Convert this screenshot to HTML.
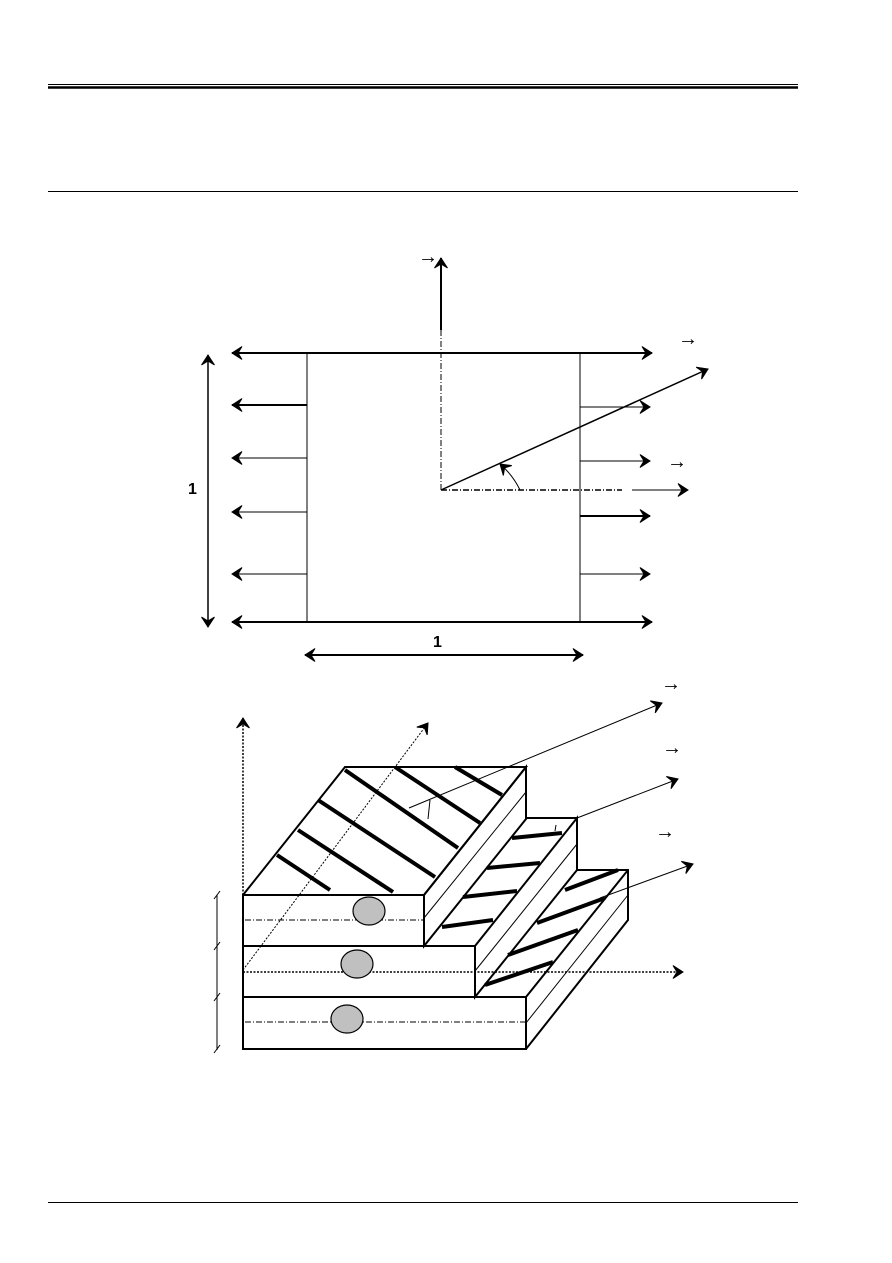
<!DOCTYPE html>
<html><head><meta charset="utf-8"><style>
html,body{margin:0;padding:0;background:#fff;width:892px;height:1263px;overflow:hidden}
svg{display:block}
text{font-family:"Liberation Sans",sans-serif;fill:#000}
</style></head><body>
<svg width="892" height="1263" viewBox="0 0 892 1263" xmlns="http://www.w3.org/2000/svg">
<defs>
<marker id="a" markerWidth="16" markerHeight="16" refX="12" refY="8" orient="auto" markerUnits="userSpaceOnUse">
<path d="M2,1.5 L12,8 L2,14.5 L6,8 Z" fill="#000" stroke="#000" stroke-width="1"/></marker>
<marker id="b" markerWidth="16" markerHeight="16" refX="4" refY="8" orient="auto" markerUnits="userSpaceOnUse">
<path d="M14,1.5 L4,8 L14,14.5 L10,8 Z" fill="#000" stroke="#000" stroke-width="1"/></marker>
</defs>
<g stroke="#000" fill="none">
<line x1="48" y1="84.5" x2="798" y2="84.5" stroke-width="1"/>
<line x1="48" y1="87.5" x2="798" y2="87.5" stroke-width="2.5"/>
<line x1="48" y1="191.5" x2="798" y2="191.5" stroke-width="1"/>
<line x1="48" y1="1202.5" x2="798" y2="1202.5" stroke-width="1"/>

<!-- top diagram -->
<rect x="307" y="353" width="273" height="269" stroke-width="1"/>
<line x1="232" y1="353" x2="652" y2="353" stroke-width="2" marker-start="url(#b)" marker-end="url(#a)"/>
<line x1="232" y1="622" x2="652" y2="622" stroke-width="2" marker-start="url(#b)" marker-end="url(#a)"/>
<line x1="307" y1="405" x2="232" y2="405" stroke-width="2" marker-end="url(#a)"/>
<line x1="307" y1="458" x2="232" y2="458" stroke-width="1" marker-end="url(#a)"/>
<line x1="307" y1="512" x2="232" y2="512" stroke-width="1" marker-end="url(#a)"/>
<line x1="307" y1="574" x2="232" y2="574" stroke-width="1" marker-end="url(#a)"/>
<line x1="580" y1="407" x2="650" y2="407" stroke-width="1" marker-end="url(#a)"/>
<line x1="580" y1="461" x2="650" y2="461" stroke-width="1" marker-end="url(#a)"/>
<line x1="580" y1="516" x2="650" y2="516" stroke-width="2" marker-end="url(#a)"/>
<line x1="580" y1="574" x2="650" y2="574" stroke-width="1" marker-end="url(#a)"/>
<line x1="208" y1="355" x2="208" y2="627" stroke-width="1.5" marker-start="url(#b)" marker-end="url(#a)"/>
<line x1="305" y1="655" x2="583" y2="655" stroke-width="2" marker-start="url(#b)" marker-end="url(#a)"/>
<line x1="441" y1="330" x2="441" y2="258" stroke-width="2" marker-end="url(#a)"/>
<line x1="441" y1="330" x2="441" y2="490" stroke-width="1" stroke-dasharray="6,2,1,2"/>
<line x1="441" y1="490" x2="622" y2="490" stroke-width="1.5" stroke-dasharray="6,2,1,2"/>
<line x1="632" y1="490" x2="688" y2="490" stroke-width="1" marker-end="url(#a)"/>
<line x1="441" y1="490" x2="708" y2="369" stroke-width="1.5" marker-end="url(#a)"/>
<path d="M520,490 A80,80 0 0 0 500,464" stroke-width="1" marker-end="url(#a)"/>

<!-- bottom diagram -->
<g stroke-width="2">
<rect x="243" y="895" width="181" height="51"/>
<rect x="243" y="946" width="232" height="51"/>
<rect x="243" y="997" width="283" height="52"/>
<polyline points="243,895 345,767 526,767 424,895"/>
<polygon points="424,895 526,767 526,819 424,946"/>
<polygon points="475,946 577,818 577,870 475,997"/>
<polyline points="526,818 577,818"/>
<polyline points="577,870 628,870 628,920 526,1049"/>
<line x1="526" y1="997" x2="628" y2="870"/>
</g>
<g stroke-width="1">
<line x1="424" y1="918" x2="526" y2="792"/>
<line x1="475" y1="971" x2="577" y2="844"/>
<line x1="526" y1="1023" x2="628" y2="895"/>
</g>
<g stroke-width="1" stroke-dasharray="6,2,1,2">
<line x1="245" y1="920" x2="424" y2="920"/>
<line x1="245" y1="1022" x2="526" y2="1022"/>
</g>
<g stroke-width="1.5" stroke-dasharray="2,1.5">
<line x1="243" y1="972" x2="683" y2="972" marker-end="url(#a)"/>
<line x1="243" y1="895" x2="243" y2="718" marker-end="url(#a)"/>
<line x1="243" y1="970" x2="428" y2="723" stroke-width="1" marker-end="url(#a)"/>
</g>
<g fill="#c0c0c0" stroke-width="1.2">
<ellipse cx="369" cy="911" rx="16" ry="14"/>
<ellipse cx="357" cy="964" rx="16" ry="14"/>
<ellipse cx="347" cy="1019" rx="16" ry="14"/>
</g>
<g stroke-width="4">
<line x1="277" y1="855" x2="330" y2="890"/>
<line x1="298" y1="830" x2="393" y2="892"/>
<line x1="318" y1="800" x2="435" y2="877"/>
<line x1="345" y1="770" x2="458" y2="848"/>
<line x1="395" y1="767" x2="480" y2="823"/>
<line x1="455" y1="767" x2="502" y2="795"/>
<line x1="512" y1="838" x2="562" y2="833"/>
<line x1="487" y1="868" x2="540" y2="863"/>
<line x1="463" y1="897" x2="517" y2="891"/>
<line x1="442" y1="927" x2="493" y2="920"/>
<line x1="565" y1="890" x2="618" y2="870"/>
<line x1="537" y1="923" x2="605" y2="898"/>
<line x1="508" y1="955" x2="578" y2="930"/>
<line x1="485" y1="985" x2="553" y2="962"/>
</g>
<g stroke-width="1">
<line x1="409" y1="808" x2="662" y2="703" marker-end="url(#a)"/>
<line x1="428" y1="819" x2="430" y2="800"/>
<line x1="577" y1="818" x2="678" y2="779" marker-end="url(#a)"/>
<line x1="555" y1="831" x2="556" y2="825"/>
<line x1="600" y1="898" x2="693" y2="864" marker-end="url(#a)"/>
<line x1="217" y1="895" x2="217" y2="1050"/>
<line x1="214" y1="899" x2="220" y2="891"/>
<line x1="214" y1="950" x2="220" y2="942"/>
<line x1="214" y1="1001" x2="220" y2="993"/>
<line x1="214" y1="1053" x2="220" y2="1045"/>
</g>
</g>
<g font-size="16" font-weight="bold">
<text x="188" y="494">1</text>
<text x="433" y="647">1</text>
</g>
<g font-size="20" font-weight="bold">
<text x="418" y="263">→</text>
<text x="678" y="345">→</text>
<text x="667" y="468">→</text>
<text x="661" y="690">→</text>
<text x="662" y="754">→</text>
<text x="655" y="838">→</text>
</g>
</svg>
</body></html>
